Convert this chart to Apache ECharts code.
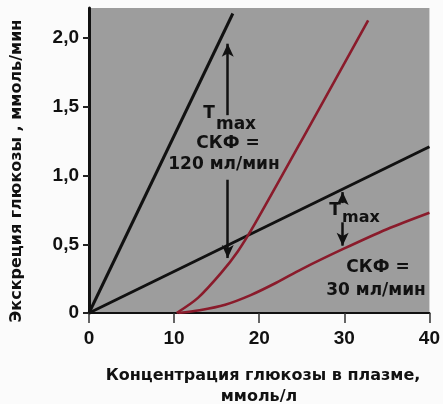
<!DOCTYPE html>
<html>
<head>
<meta charset="utf-8">
<script src="https://cdn.jsdelivr.net/npm/echarts@6/dist/echarts.min.js"></script>
<style>
  html, body { margin: 0; padding: 0; background: #fbfbfb; }
  #chart { width: 443px; height: 404px; }
</style>
</head>
<body>
<div id="chart"></div>
<script>
// Axis ticks
const xTicks = [0, 10, 20, 30, 40];
const yTicks = [0, 0.5, 1.0, 1.5, 2.0];

// Filtered load (straight lines through the origin), mmol/min
const filteredGfr120 = [[0, 0], [16.9, 2.18]];
const filteredGfr30 = [[0, 0], [40, 1.21]];

// Excreted glucose, mmol/min
const excretedGfr120 = [[10.3, 0], [12.8, 0.11], [15.5, 0.29], [17.5, 0.45],
  [19.5, 0.65], [26, 1.37], [32.8, 2.13]];
const excretedGfr30 = [[10.5, 0], [13, 0.02], [16, 0.06], [19, 0.13], [22, 0.22],
  [25, 0.32], [30, 0.47], [35, 0.61], [40, 0.73]];

// Tmax arrows: [x, from, to]
const tmaxArrows = [
  [16.3, 1.44, 1.96], [16.3, 0.97, 0.40],
  [29.8, 0.80, 0.88], [29.8, 0.66, 0.49]
];

const FONT = '"Liberation Sans", Arial, sans-serif';
const WIDE = '"DejaVu Sans", sans-serif';
const RED = '#8a1b2b';

const chart = echarts.init(document.getElementById('chart'));

function lineSeries(data, color, width) {
  return {
    type: 'line', data: data, showSymbol: false, smooth: 0.3,
    lineStyle: { color: color, width: width }, silent: true, z: 3
  };
}

function label(text, x, y, size, extra) {
  return Object.assign({
    type: 'text', x: x, y: y,
    style: { text: text, font: 'bold ' + size + 'px ' + WIDE, fill: '#111', align: 'center', verticalAlign: 'middle' }
  }, extra || {});
}

chart.setOption({
  backgroundColor: '#fbfbfb',
  animation: false,
  grid: {
    left: 89, right: 8, top: 8, bottom: 91,
    show: true, backgroundColor: '#9d9d9d', borderWidth: 0
  },
  xAxis: {
    type: 'value', min: 0, max: 40, interval: 10,
    splitLine: { show: false },
    axisLine: { lineStyle: { color: '#111', width: 2 } },
    axisTick: { customValues: xTicks, length: 10, lineStyle: { color: '#333', width: 1.5 } },
    axisLabel: {
      customValues: xTicks, margin: 16,
      color: '#111', fontFamily: FONT, fontWeight: 'bold', fontSize: 19
    }
  },
  yAxis: {
    type: 'value', min: 0, max: 2.22,
    splitLine: { show: false },
    axisLine: { lineStyle: { color: '#111', width: 3 } },
    axisTick: { customValues: yTicks, length: 6, lineStyle: { color: '#222', width: 2 } },
    axisLabel: {
      customValues: yTicks, margin: 10,
      color: '#111', fontFamily: FONT, fontWeight: 'bold', fontSize: 19,
      formatter: v => v === 0 ? '0' : v.toFixed(1).replace('.', ',')
    }
  },
  series: [
    lineSeries(filteredGfr120, '#111', 3),
    lineSeries(filteredGfr30, '#111', 3),
    lineSeries(excretedGfr120, RED, 2.6),
    lineSeries(excretedGfr30, RED, 2.6),
    {
      type: 'line', data: [], silent: true,
      markLine: {
        silent: true, symbol: ['none', 'arrow'], symbolSize: [9, 13],
        lineStyle: { color: '#111', width: 2.5, type: 'solid' },
        label: { show: false },
        data: tmaxArrows.map(a => [{ coord: [a[0], a[1]] }, { coord: [a[0], a[2]] }])
      }
    }
  ],
  graphic: [
    label('T', 209, 114, 17),
    label('max', 236, 125, 17),
    label('СКФ =', 228, 144, 17),
    label('120 мл/мин', 224, 165, 17),
    label('T', 335, 211, 17),
    label('max', 361, 218, 16),
    label('СКФ =', 378, 268, 17),
    label('30 мл/мин', 376, 291, 17),
    label('Концентрация глюкозы в плазме,', 263, 376, 16),
    label('ммоль/л', 259, 397, 16),
    label('Экскреция глюкозы , ммоль/мин', 17, 171, 16, { rotation: Math.PI / 2 })
  ]
});
</script>
</body>
</html>
